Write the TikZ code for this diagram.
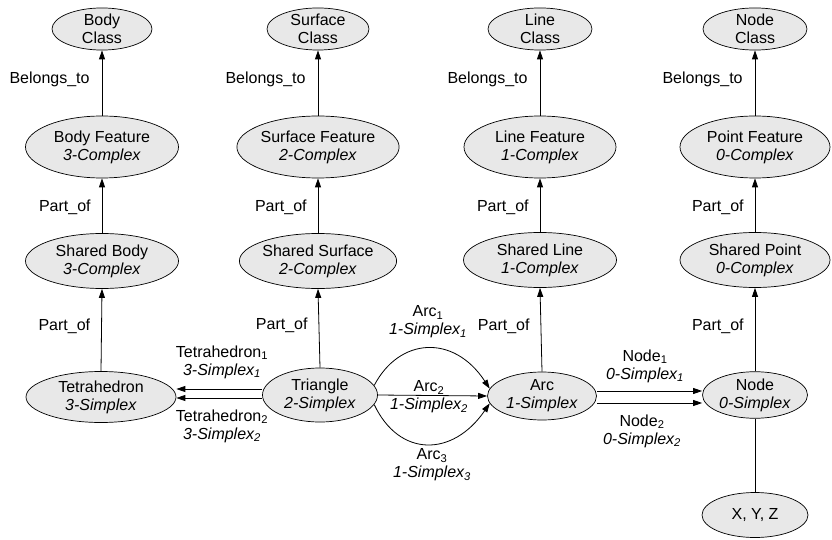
\documentclass[tikz,border=0pt]{standalone}
\usepackage{fontspec}
\setmainfont{Liberation Sans}
\usetikzlibrary{shapes.geometric,arrows.meta}
\tikzset{
  ell/.style={ellipse, draw=black, line width=0.7pt, fill=black!9, inner sep=0pt, align=center,
    font=\fontsize{16}{18}\selectfont},
  arr/.style={line width=0.8pt, -{Triangle[length=9pt,width=6pt]}},
  plain/.style={line width=0.8pt},
  lbl/.style={align=center, inner sep=0pt, font=\fontsize{16}{18}\selectfont},
}
\begin{document}
\begin{tikzpicture}[x=1pt,y=1pt]
\useasboundingbox (0,0) rectangle (832,-540);
% class row
\node[ell, minimum width=100, minimum height=42] (bc) at (102,-29) {Body\\Class};
\node[ell, minimum width=102, minimum height=42] (sc) at (318,-29) {Surface\\Class};
\node[ell, minimum width=104, minimum height=42] (lc) at (540,-29) {Line\\Class};
\node[ell, minimum width=104, minimum height=42] (nc) at (755,-29) {Node\\Class};
% feature row
\node[ell, minimum width=153, minimum height=62] (bf) at (102,-147) {Body Feature\\\textit{3-Complex}};
\node[ell, minimum width=154, minimum height=62] (sf) at (318,-147) {Surface Feature\\\textit{2-Complex}};
\node[ell, minimum width=152, minimum height=62] (lf) at (540,-147) {Line Feature\\\textit{1-Complex}};
\node[ell, minimum width=150, minimum height=62] (pf) at (755,-147) {Point Feature\\\textit{0-Complex}};
% shared row
\node[ell, minimum width=153, minimum height=55] (sb) at (102,-261) {Shared Body\\\textit{3-Complex}};
\node[ell, minimum width=153, minimum height=55] (ss) at (318,-261) {Shared Surface\\\textit{2-Complex}};
\node[ell, minimum width=153, minimum height=55] (sl) at (540,-260) {Shared Line\\\textit{1-Complex}};
\node[ell, minimum width=150, minimum height=55] (sp) at (755,-260) {Shared Point\\\textit{0-Complex}};
% simplex row
\node[ell, minimum width=150, minimum height=51] (tet) at (101,-397) {Tetrahedron\\\textit{3-Simplex}};
\node[ell, minimum width=115, minimum height=54] (tri) at (320,-395) {Triangle\\\textit{2-Simplex}};
\node[ell, minimum width=109, minimum height=48] (arc) at (542,-396) {Arc\\\textit{1-Simplex}};
\node[ell, minimum width=105, minimum height=45] (nd) at (755,-395) {Node\\\textit{0-Simplex}};
\node[ell, minimum width=106, minimum height=45] (xyz) at (755,-515) {X, Y, Z};
% vertical arrows
\foreach \lo/\hi in {bf/bc, sf/sc, lf/lc, pf/nc}{
  \draw[arr] (\lo.north) -- (\hi.south) node[lbl, pos=0.55, anchor=east, xshift=-12pt] {Belongs\_to};
}
\foreach \lo/\hi in {sb/bf, ss/sf, sl/lf, sp/pf}{
  \draw[arr] (\lo.north) -- (\hi.south) node[lbl, pos=0.47, anchor=east, xshift=-11pt] {Part\_of};
}
\foreach \lo/\hi in {tet/sb, tri/ss, arc/sl, nd/sp}{
  \draw[arr] (\lo.north) -- (\hi.south) node[lbl, pos=0.54, anchor=east, xshift=-11pt] {Part\_of};
}
\draw[plain] (nd.south) -- (xyz.north);
% triangle -> tetrahedron
\coordinate (ty1) at (0,-389);
\coordinate (ty2) at (0,-398);
\draw[arr] (tri.west|-ty1) -- (tet.east|-ty1);
\draw[arr] (tri.west|-ty2) -- (tet.east|-ty2);
\node[lbl] (tl1) at (222,-362) {Tetrahedron\textsubscript{1}\\\textit{3-Simplex\textsubscript{1}}};
\node[lbl] (tl2) at (222,-426) {Tetrahedron\textsubscript{2}\\\textit{3-Simplex\textsubscript{2}}};
% triangle -> arc
\draw[arr] (tri.10) .. controls +(25,48) and +(-36,55) .. (arc.172);
\draw[arr] (tri.east) -- (arc.west);
\draw[arr] (tri.-10) .. controls +(25,-53) and +(-37,-54) .. (arc.188);
\node[lbl] (al1) at (428,-322) {Arc\textsubscript{1}\\\textit{1-Simplex\textsubscript{1}}};
\node[lbl] (al2) at (429,-397) {Arc\textsubscript{2}\\\textit{1-Simplex\textsubscript{2}}};
\node[lbl] (al3) at (432,-465) {Arc\textsubscript{3}\\\textit{1-Simplex\textsubscript{3}}};
% arc -> node
\coordinate (ny1) at (0,-391);
\coordinate (ny2) at (0,-403);
\draw[arr] (arc.east|-ny1) -- (nd.west|-ny1);
\draw[arr] (arc.east|-ny2) -- (nd.west|-ny2);
\node[lbl] (nl1) at (645,-366) {Node\textsubscript{1}\\\textit{0-Simplex\textsubscript{1}}};
\node[lbl] (nl2) at (642,-431) {Node\textsubscript{2}\\\textit{0-Simplex\textsubscript{2}}};
\end{tikzpicture}
\end{document}
